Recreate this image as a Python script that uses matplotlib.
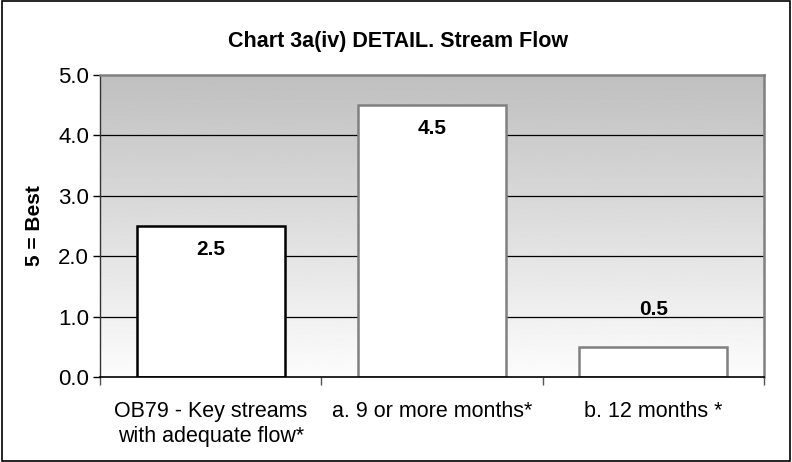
import matplotlib.pyplot as plt
import numpy as np
from matplotlib.patches import Rectangle

# Chart data
categories = ["OB79 - Key streams\nwith adequate flow*", "a. 9 or more months*", "b. 12 months *"]
scores = [2.5, 4.5, 0.5]
edge_colors = ["#000000", "#808080", "#808080"]
y_ticks = [0.0, 1.0, 2.0, 3.0, 4.0, 5.0]

plt.rcParams["font.family"] = ["Liberation Sans", "DejaVu Sans"]

fig = plt.figure(figsize=(7.92, 4.62), dpi=100)
ax = fig.add_axes([100 / 792, 1 - 377 / 462, 664 / 792, 302 / 462])

# Gradient background (grey at top fading to white at bottom)
grad = np.linspace(0.99, 0.75, 256).reshape(-1, 1)
ax.imshow(grad, cmap="gray", vmin=0, vmax=1, aspect="auto",
          extent=[-0.5, len(categories) - 0.5, 0, 5], origin="lower", zorder=0)

ax.set_xlim(-0.5, len(categories) - 0.5)
ax.set_ylim(0, 5)

for y in y_ticks[1:-1]:
    ax.axhline(y, color="black", linewidth=0.9, zorder=1)

x = np.arange(len(categories))
bars = ax.bar(x, scores, width=0.67, color="white", edgecolor=edge_colors,
              linewidth=1.8, zorder=2)

# Value labels
for xi, v in zip(x, scores):
    offset = -17 if v > 1.5 else 27
    ax.annotate(f"{v:.1f}", (xi, v), xytext=(0, offset), textcoords="offset points",
                ha="center", va="center", fontsize=15, fontweight="bold", zorder=3)

ax.set_yticks(y_ticks)
ax.set_yticklabels([f"{t:.1f}" for t in y_ticks], fontsize=16)
ax.set_xticks(x)
ax.set_xticklabels(categories, fontsize=15.5, linespacing=1.3)
ax.tick_params(axis="x", length=0, pad=17)
ax.tick_params(axis="y", length=5, width=1, direction="out", pad=3)
ax.set_xticks(np.arange(-0.5, len(categories)), minor=True)
ax.tick_params(axis="x", which="minor", length=6, width=1, color="#555555")

for side in ["top", "right"]:
    ax.spines[side].set_color("#808080")
    ax.spines[side].set_linewidth(1.8)
ax.spines["left"].set_color("#333333")
ax.spines["left"].set_linewidth(1)
ax.spines["bottom"].set_color("black")
ax.spines["bottom"].set_linewidth(1.2)

ax.set_ylabel("5 = Best", fontsize=15, fontweight="bold", labelpad=10)
fig.text(398 / 792, 1 - 42 / 462, "Chart 3a(iv) DETAIL. Stream Flow",
         ha="center", va="center", fontsize=15.5, fontweight="bold")

# Outer border
fig.patches.append(Rectangle((0.002, 0.003), 0.996, 0.994, transform=fig.transFigure,
                             fill=False, edgecolor="black", linewidth=1.2))

plt.savefig("out.png", dpi=100)
plt.close()
